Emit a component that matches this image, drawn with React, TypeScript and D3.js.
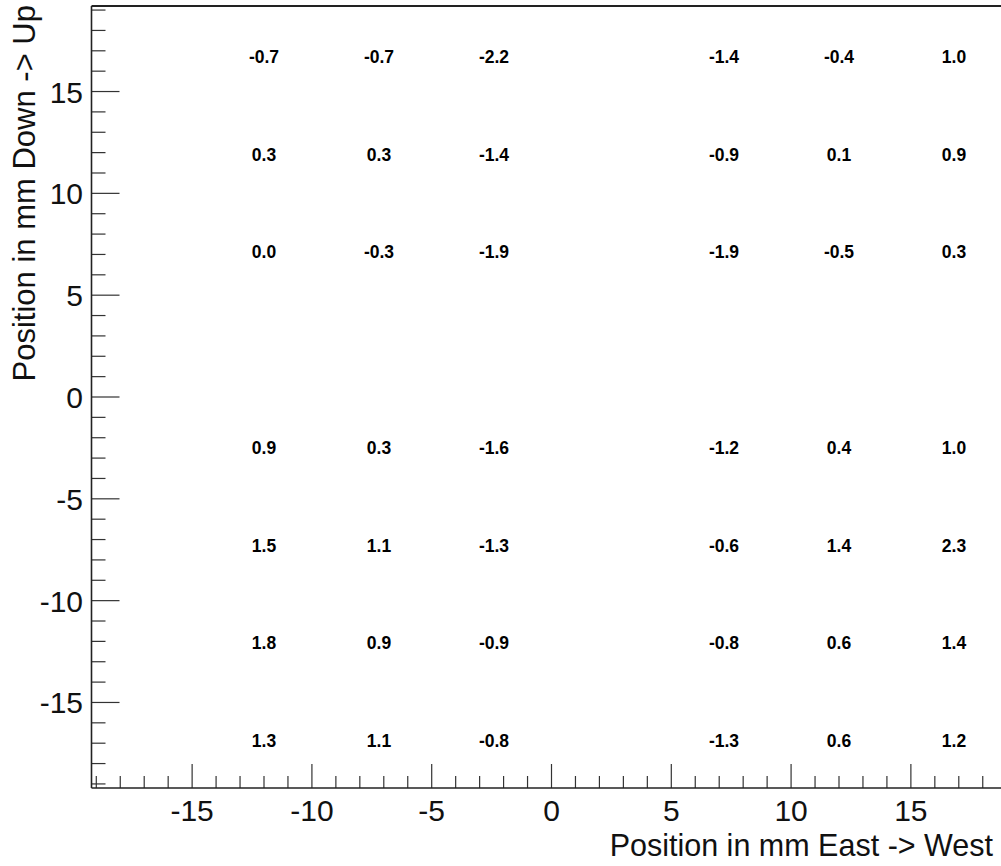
import React, { useEffect, useRef } from "react";
import * as d3 from "d3";

const W = 1001;
const H = 866;

// bin centres (mm)
const xCenters = [-12, -7.2, -2.4, 7.2, 12, 16.8];
const yCenters = [16.8, 12, 7.2, -2.4, -7.2, -12, -16.8];

// cell values, one array per row (top to bottom)
const row16_8 = [-0.7, -0.7, -2.2, -1.4, -0.4, 1.0];
const row12 = [0.3, 0.3, -1.4, -0.9, 0.1, 0.9];
const row7_2 = [0.0, -0.3, -1.9, -1.9, -0.5, 0.3];
const rowM2_4 = [0.9, 0.3, -1.6, -1.2, 0.4, 1.0];
const rowM7_2 = [1.5, 1.1, -1.3, -0.6, 1.4, 2.3];
const rowM12 = [1.8, 0.9, -0.9, -0.8, 0.6, 1.4];
const rowM16_8 = [1.3, 1.1, -0.8, -1.3, 0.6, 1.2];
const rows = [row16_8, row12, row7_2, rowM2_4, rowM7_2, rowM12, rowM16_8];

const axisRange = [-19.2, 19.2];
const majorTicks = [-15, -10, -5, 0, 5, 10, 15];
const minorTicks = d3.range(-19, 20, 1);

const xTitle = "Position in mm East -> West";
const yTitle = "Position in mm Down -> Up";

const FONT = "'Liberation Sans', Arial, Helvetica, sans-serif";

export default function App() {
  const ref = useRef<SVGSVGElement>(null);

  useEffect(() => {
    const svg = d3.select(ref.current);
    svg.selectAll("*").remove();

    const left = 91.5, right = 1011.5, top = 6, bottom = 788;
    const x = d3.scaleLinear().domain(axisRange).range([left, right]);
    const y = d3.scaleLinear().domain(axisRange).range([bottom, top]);

    const g = svg.append("g");

    // x ticks
    g.selectAll("line.xmin")
      .data(minorTicks)
      .enter()
      .append("line")
      .attr("x1", (d) => x(d))
      .attr("x2", (d) => x(d))
      .attr("y1", bottom)
      .attr("y2", (d) => (majorTicks.includes(d) ? bottom - 24 : bottom - 12))
      .attr("stroke", "#333")
      .attr("stroke-width", 1.2);

    // y ticks
    g.selectAll("line.ymin")
      .data(minorTicks)
      .enter()
      .append("line")
      .attr("y1", (d) => y(d))
      .attr("y2", (d) => y(d))
      .attr("x1", left)
      .attr("x2", (d) => (majorTicks.includes(d) ? left + 28 : left + 14))
      .attr("stroke", "#333")
      .attr("stroke-width", 1.2);

    // frame lines
    g.append("line")
      .attr("x1", left).attr("x2", right)
      .attr("y1", bottom).attr("y2", bottom)
      .attr("stroke", "#222").attr("stroke-width", 1.6);
    g.append("line")
      .attr("x1", left).attr("x2", right)
      .attr("y1", top).attr("y2", top)
      .attr("stroke", "#222").attr("stroke-width", 1.8);
    g.append("line")
      .attr("x1", left).attr("x2", left)
      .attr("y1", top).attr("y2", bottom)
      .attr("stroke", "#222").attr("stroke-width", 1.6);

    // x tick labels
    g.selectAll("text.xl")
      .data(majorTicks)
      .enter()
      .append("text")
      .attr("x", (d) => x(d))
      .attr("y", 821)
      .attr("text-anchor", "middle")
      .attr("font-family", FONT)
      .attr("font-size", 30)
      .attr("fill", "#111")
      .text((d) => String(d));

    // y tick labels
    g.selectAll("text.yl")
      .data(majorTicks)
      .enter()
      .append("text")
      .attr("x", 83)
      .attr("y", (d) => y(d) + 11)
      .attr("text-anchor", "end")
      .attr("font-family", FONT)
      .attr("font-size", 30)
      .attr("fill", "#111")
      .text((d) => String(d));

    // axis titles
    g.append("text")
      .attr("x", 993)
      .attr("y", 856)
      .attr("text-anchor", "end")
      .attr("font-family", FONT)
      .attr("font-size", 30.5)
      .attr("fill", "#111")
      .text(xTitle);

    g.append("text")
      .attr("transform", `translate(35,5) rotate(-90)`)
      .attr("text-anchor", "end")
      .attr("font-family", FONT)
      .attr("font-size", 31)
      .attr("fill", "#111")
      .text(yTitle);

    // cell values
    const cells: { cx: number; cy: number; v: number }[] = [];
    rows.forEach((r, i) =>
      r.forEach((v, j) => cells.push({ cx: xCenters[j], cy: yCenters[i], v }))
    );
    g.selectAll("text.cell")
      .data(cells)
      .enter()
      .append("text")
      .attr("x", (d) => x(d.cx))
      .attr("y", (d) => y(d.cy) + 8)
      .attr("text-anchor", "middle")
      .attr("font-family", FONT)
      .attr("font-weight", "bold")
      .attr("font-size", 17.5)
      .attr("fill", "#000")
      .text((d) => d.v.toFixed(1));
  }, []);

  return (
    <svg
      ref={ref}
      width={W}
      height={H}
      style={{ position: "absolute", left: 0, top: 0, background: "#fff", overflow: "hidden" }}
    />
  );
}
